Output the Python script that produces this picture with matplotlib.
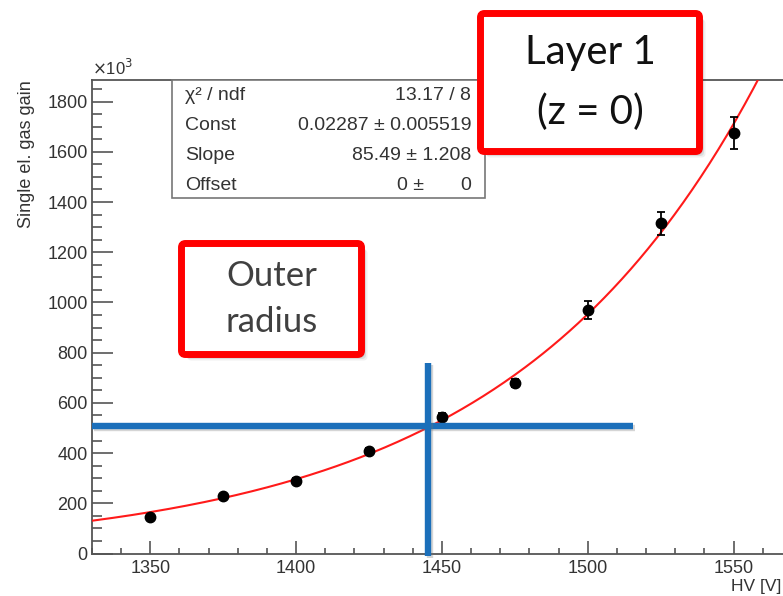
import numpy as np
import matplotlib
matplotlib.use("Agg")
import matplotlib.pyplot as plt
from matplotlib.patches import FancyBboxPatch, Rectangle
import matplotlib.patheffects as pe

# Measured single-electron gas gain vs high voltage (gain in units of 10^3)
hv = [1350, 1375, 1400, 1425, 1450, 1475, 1500, 1525, 1550]
gain = [147, 229, 289, 410, 545, 680, 970, 1315, 1676]
gain_err = [8, 9, 10, 12, 14, 17, 34, 45, 64]

# Exponential fit: gain = Const * exp(HV / Slope) + Offset
fit_const = 0.02287
fit_const_err = 0.005519
fit_slope = 85.49
fit_slope_err = 1.208
fit_offset = 0
fit_offset_err = 0
chi2, ndf = 13.17, 8

# Operating point
op_hv = 1445.3
op_gain = 507
op_hline_end = 1515.6
op_vline_top = 760

x_range = (1330, 1570)
y_range = (0, 1886)
y_ticks = [0, 200, 400, 600, 800, 1000, 1200, 1400, 1600, 1800]
x_ticks = [1350, 1400, 1450, 1500, 1550]

W, H = 783, 596
fig = plt.figure(figsize=(W / 100, H / 100), dpi=100)
fig.patch.set_facecolor("white")

def px(x0, y0, x1, y1):
    return [x0 / W, 1 - y1 / H, (x1 - x0) / W, (y1 - y0) / H]

ax = fig.add_axes(px(92, 80, 792, 553.5))
ax.set_xlim(*x_range)
ax.set_ylim(*y_range)

axis_col = "#555555"
text_col = "#333333"
for s in ax.spines.values():
    s.set_color(axis_col)
    s.set_linewidth(1.3)

ax.set_xticks(x_ticks)
ax.set_xticks(np.arange(1330, 1571, 10), minor=True)
ax.set_yticks(y_ticks)
ax.set_yticks(np.arange(0, 1886, 50), minor=True)
ax.tick_params(axis="both", which="both", direction="in", color=axis_col,
               width=1.2, labelcolor=text_col, labelsize=13,
               top=False, right=False)
ax.tick_params(axis="y", which="major", length=15, pad=3)
ax.tick_params(axis="y", which="minor", length=7)
ax.tick_params(axis="x", which="major", length=9.5, pad=5)
ax.tick_params(axis="x", which="minor", length=4)
for lab in ax.get_xticklabels() + ax.get_yticklabels():
    lab.set_fontfamily("Liberation Sans")

# Fit curve
xf = np.linspace(x_range[0], x_range[1], 400)
yf = (fit_const * np.exp(xf / fit_slope) + fit_offset) / 1e3
ax.plot(xf, yf, color="#ff1a1a", lw=1.5, zorder=3)

# Data points with errors
ax.errorbar(hv, gain, yerr=gain_err, fmt="o", color="black", ms=7.5,
            elinewidth=1.3, capsize=3, capthick=1.3, zorder=4)

# Operating-point cross-hair
shadow = [pe.SimpleLineShadow(offset=(1.5, -1.5), shadow_color="#777777", alpha=0.3),
          pe.Normal()]
blue = "#1b6fba"
ax.plot([x_range[0], op_hline_end], [op_gain, op_gain], color=blue, lw=4.6,
        solid_capstyle="butt", clip_on=False, zorder=5, path_effects=shadow)
ax.plot([op_hv, op_hv], [-8, op_vline_top], color=blue, lw=4.6,
        solid_capstyle="butt", clip_on=False, zorder=5, path_effects=shadow)

# Axis titles
fig.text(27 / W, 1 - 80 / H, "Single el. gas gain", rotation=90, ha="center",
         va="top", fontsize=13, color=text_col, family="Liberation Sans")
fig.text(781 / W, 1 - 594 / H, "HV [V]", ha="right", va="bottom",
         fontsize=12.5, color=text_col, family="Liberation Sans")
fig.text(92 / W, 1 - 68 / H, r"$\times$10$^{3}$", ha="left", va="center",
         fontsize=12, color=text_col, family="Liberation Sans")

# Overlay in pixel coordinates for the stats box and callouts
ov = fig.add_axes([0, 0, 1, 1], zorder=10)
ov.set_xlim(0, W)
ov.set_ylim(H, 0)
ov.axis("off")
ov.patch.set_alpha(0)

# Fit statistics box
ov.add_patch(Rectangle((172, 80), 313, 118, facecolor="white",
                       edgecolor="#777777", lw=1.2, zorder=1))
rows = [
    ("χ² / ndf", f"{chi2:.2f} / {ndf}"),
    ("Const", f"{fit_const:.5f} ± {fit_const_err:.6f}"),
    ("Slope", f"{fit_slope:.2f} ± {fit_slope_err:.3f}"),
    ("Offset", None),
]
for i, (name, val) in enumerate(rows):
    y = 96 + 29.7 * i
    ov.text(185, y, name, ha="left", va="center", fontsize=14,
            color=text_col, family="Liberation Sans", zorder=2)
    if val is not None:
        ov.text(471, y, val, ha="right", va="center", fontsize=14,
                color=text_col, family="Liberation Sans", zorder=2)
    else:
        ov.text(424, y, f"{fit_offset} ±", ha="right", va="center",
                fontsize=14, color=text_col, family="Liberation Sans", zorder=2)
        ov.text(471, y, f"{fit_offset_err}", ha="right", va="center",
                fontsize=14, color=text_col, family="Liberation Sans", zorder=2)


def callout(x0, y0, x1, y1, lines, size, color, spacing):
    for off, a in [(6, 0.08), (4.5, 0.12), (3, 0.16)]:
        ov.add_patch(FancyBboxPatch((x0 + off, y0 + off), x1 - x0, y1 - y0,
                                    boxstyle="round,pad=0,rounding_size=4",
                                    facecolor="#444444", edgecolor="none",
                                    alpha=a, zorder=3))
    ov.add_patch(FancyBboxPatch((x0, y0), x1 - x0, y1 - y0,
                                boxstyle="round,pad=0,rounding_size=4",
                                facecolor="white", edgecolor="#ff0000",
                                lw=5, zorder=4))
    cx = (x0 + x1) / 2
    cy = (y0 + y1) / 2
    n = len(lines)
    for i, t in enumerate(lines):
        ov.text(cx, cy + (i - (n - 1) / 2) * spacing, t, ha="center",
                va="center", fontsize=size, color=color, family="Lato",
                weight="normal", zorder=5)


callout(480.5, 13.5, 699.5, 151.5, ["Layer 1", "(z = 0)"], 29, "#111111", 60)
callout(181.5, 243.5, 361.5, 354.5, ["Outer", "radius"], 25, "#404040", 47)

fig.savefig("out.png", dpi=100)
